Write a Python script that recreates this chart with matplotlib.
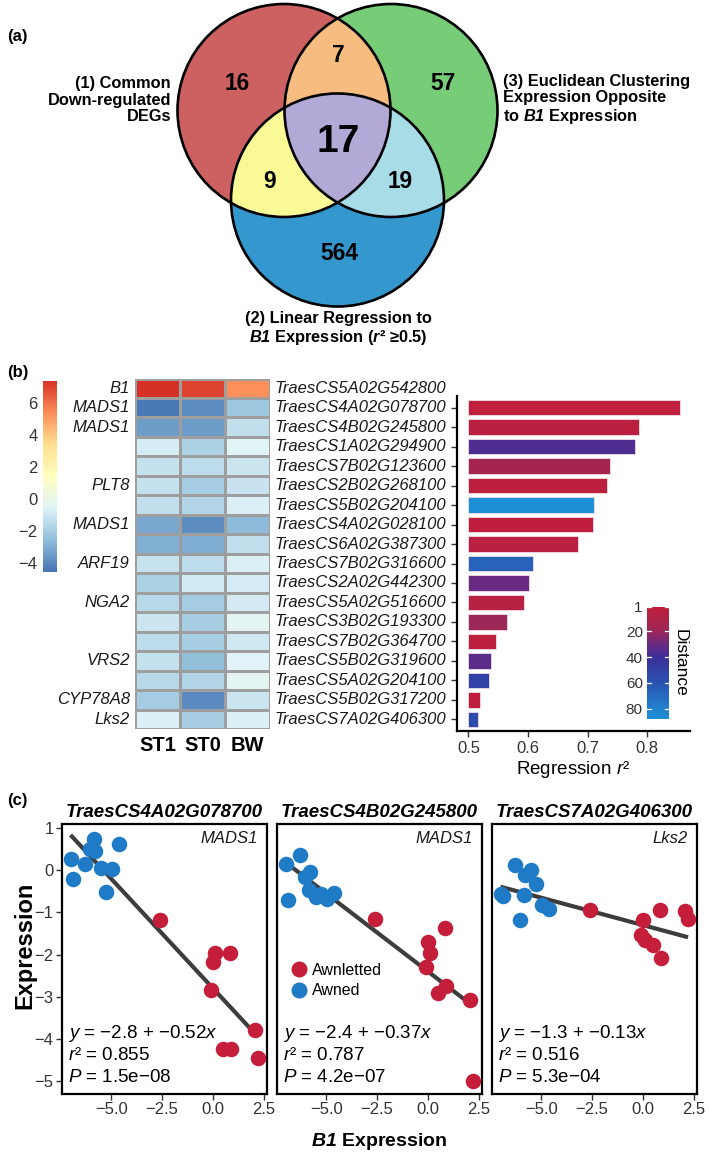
import numpy as np
import matplotlib
matplotlib.use("Agg")
import matplotlib.pyplot as plt
from matplotlib.colors import LinearSegmentedColormap, Normalize, to_rgba
from matplotlib.patches import Ellipse
from matplotlib.lines import Line2D

plt.rcParams['font.family'] = ['Liberation Sans', 'DejaVu Sans']
plt.rcParams['mathtext.fontset'] = 'custom'
plt.rcParams['mathtext.rm'] = 'Liberation Sans'
plt.rcParams['mathtext.it'] = 'Liberation Sans:italic'
plt.rcParams['mathtext.bf'] = 'Liberation Sans:bold'
plt.rcParams['mathtext.bfit'] = 'Liberation Sans:italic:bold'

W, H = 709, 1159

# ---------------- data ----------------
# (a) venn region counts
venn_only1, venn_only3, venn_only2 = 16, 57, 564
venn_13, venn_12, venn_23, venn_123 = 7, 9, 19, 17

# (b) heatmap + regression bars
gene_names = ["B1", "MADS1", "MADS1", "", "", "PLT8", "", "MADS1", "", "ARF19",
              "", "NGA2", "", "", "VRS2", "", "CYP78A8", "Lks2"]
gene_ids = ["TraesCS5A02G542800", "TraesCS4A02G078700", "TraesCS4B02G245800",
            "TraesCS1A02G294900", "TraesCS7B02G123600", "TraesCS2B02G268100",
            "TraesCS5B02G204100", "TraesCS4A02G028100", "TraesCS6A02G387300",
            "TraesCS7B02G316600", "TraesCS2A02G442300", "TraesCS5A02G516600",
            "TraesCS3B02G193300", "TraesCS7B02G364700", "TraesCS5B02G319600",
            "TraesCS5A02G204100", "TraesCS5B02G317200", "TraesCS7A02G406300"]
conditions = ["ST1", "ST0", "BW"]
expr_st1 = [7.4, -4.5, -3.5, -0.85, -1.3, -1.3, -1.4, -3.2, -3.0, -1.25,
            -1.9, -1.6, -1.15, -1.5, -1.3, -1.6, -2.1, -0.7]
expr_st0 = [7.0, -3.9, -3.5, -1.9, -1.5, -2.05, -1.75, -3.95, -3.05, -1.5,
            -0.95, -2.1, -2.0, -2.0, -2.55, -1.75, -4.0, -2.0]
expr_bw = [5.3, -2.3, -1.4, -0.5, -1.15, -1.2, -0.75, -2.7, -1.4, -0.75,
           -0.85, -0.9, -0.4, -1.0, -0.6, -0.4, -1.15, -0.7]
reg_r2 = [0.855, 0.787, 0.779, 0.738, 0.733, 0.710, 0.709, 0.684, 0.608,
          0.601, 0.593, 0.565, 0.547, 0.537, 0.535, 0.520, 0.516]
reg_dist = [2, 4, 36, 15, 3, 88, 1, 5, 66, 30, 6, 20, 3, 33, 50, 2, 55]

# (c) scatter panels
b1_awned = [-7.0, -6.9, -6.3, -6.05, -5.85, -5.8, -5.5, -5.25, -4.95, -4.6]
b1_awnletted = [-2.6, -0.08, 0.0, 0.1, 0.5, 0.83, 0.9, 2.07, 2.22]
p1_awned = [0.28, -0.2, 0.16, 0.51, 0.75, 0.47, 0.06, -0.51, 0.02, 0.62]
p1_awnletted = [-1.18, -2.84, -2.17, -1.97, -4.25, -1.97, -4.25, -3.8, -4.45]
p2_awned = [0.16, -0.71, 0.36, -0.16, -0.47, -0.04, -0.63, -0.55, -0.67, -0.54]
p2_awnletted = [-1.15, -2.29, -1.7, -1.97, -2.92, -1.38, -2.75, -3.08, -4.99]
p3_awned = [-0.55, -0.6, 0.12, -1.18, -0.59, -0.1, 0.0, -0.32, -0.83, -0.91]
p3_awnletted = [-0.95, -1.54, -1.18, -1.66, -1.78, -0.95, -2.09, -0.97, -1.15]
panel_genes = ["TraesCS4A02G078700", "TraesCS4B02G245800", "TraesCS7A02G406300"]
panel_names = ["MADS1", "MADS1", "Lks2"]
fit_intercept = [-2.8, -2.4, -1.3]
fit_slope = [-0.52, -0.37, -0.13]
fit_r2 = ["0.855", "0.787", "0.516"]
fit_p = ["1.5e\u221208", "4.2e\u221207", "5.3e\u221204"]

RED_PT = "#C41E3A"
BLUE_PT = "#1F7BC6"

fig = plt.figure(figsize=(W / 100, H / 100), dpi=100)


def add_ax(l, t, r, b):
    return fig.add_axes([l / W, 1 - b / H, (r - l) / W, (b - t) / H])


# ---------------- (a) venn ----------------
VH = 372
ax_v = add_ax(0, 0, W, VH)
ax_v.set_xlim(0, W)
ax_v.set_ylim(VH, 0)
ax_v.axis('off')

R = 106.5
ell_red = (284, 110.5, R, R)
ell_blue = (337.5, 200, R, R)
ell_green = (391, 110.5, R, R)
gx, gy = np.meshgrid(np.arange(0, W, 0.5) + 0.25, np.arange(0, VH, 0.5) + 0.25)


def inside(e):
    return ((gx - e[0]) / e[2]) ** 2 + ((gy - e[1]) / e[3]) ** 2 <= 1


code = inside(ell_red) * 1 + inside(ell_blue) * 2 + inside(ell_green) * 4
region_cols = {1: "#CD6262", 2: "#3498CE", 4: "#78CC78", 5: "#F8BE80",
               3: "#FAFA96", 6: "#A8DCE6", 7: "#B2AAD6"}
img = np.zeros(code.shape + (4,))
for k, c in region_cols.items():
    img[code == k] = to_rgba(c)
ax_v.imshow(img, extent=(0, W, VH, 0), interpolation='bilinear')
for e in (ell_red, ell_blue, ell_green):
    ax_v.add_patch(Ellipse((e[0], e[1]), 2 * e[2], 2 * e[3], fill=False, lw=1.9, ec='black'))

num_kw = dict(ha='center', va='center', fontweight='bold', fontsize=16.3)
ax_v.text(237, 83, str(venn_only1), **num_kw)
ax_v.text(338, 55, str(venn_13), **num_kw)
ax_v.text(443, 83, str(venn_only3), **num_kw)
ax_v.text(270, 182, str(venn_12), **num_kw)
ax_v.text(400, 182, str(venn_23), **num_kw)
ax_v.text(339, 254, str(venn_only2), **num_kw)
ax_v.text(338, 142, str(venn_123), ha='center', va='center', fontweight='bold', fontsize=28)

lab_kw = dict(va='center', fontweight='bold', fontsize=11.8, linespacing=1.12)
ax_v.text(171, 100, "(1) Common\nDown-regulated\nDEGs", ha='right', **lab_kw)
ax_v.text(503, 100, "(3) Euclidean Clustering\nExpression Opposite\nto $\\mathbfit{B1}$ Expression",
          ha='left', **lab_kw)
ax_v.text(338, 329, "(2) Linear Regression to\n$\\mathbfit{B1}$ Expression ($\\mathbfit{r}$\u00b2 \u22650.5)",
          ha='center', **dict(lab_kw, linespacing=1.15))

fig.text(7 / W, 1 - 37 / H, "(a)", fontsize=12, fontweight='bold', va='center')
fig.text(7 / W, 1 - 373 / H, "(b)", fontsize=12, fontweight='bold', va='center')
fig.text(7 / W, 1 - 800 / H, "(c)", fontsize=12, fontweight='bold', va='center')

# ---------------- (b) heatmap ----------------
heat_cmap = LinearSegmentedColormap.from_list(
    "pheat", ["#4575B4", "#91BFDB", "#E0F3F8", "#FFFFBF", "#FEE090", "#FC8D59", "#D73027"])
hmin, hmax = -4.6, 7.4
vals = np.array([expr_st1, expr_st0, expr_bw]).T
n_rows = len(gene_ids)

ax_h = add_ax(135, 378.5, 270, 729)
ax_h.pcolormesh(vals, cmap=heat_cmap, vmin=hmin, vmax=hmax, edgecolors='#9E9E9E', linewidth=1.0)
ax_h.set_xlim(0, 3)
ax_h.set_ylim(n_rows, 0)
for s in ax_h.spines.values():
    s.set_visible(False)
ax_h.set_yticks([])
ax_h.set_xticks(np.arange(3) + 0.5)
ax_h.set_xticklabels(conditions, fontsize=14.5, fontweight='bold')
ax_h.tick_params(axis='x', length=0, pad=5)
for i in range(n_rows):
    ax_h.text(-0.11, i + 0.5, gene_names[i], ha='right', va='center', style='italic',
              fontsize=12, color='#1A1A1A')
    ax_h.text(3.1, i + 0.5, gene_ids[i], ha='left', va='center', style='italic',
              fontsize=12, color='#1A1A1A')

ax_hc = add_ax(43, 380.5, 57, 572.5)
ax_hc.imshow(np.linspace(hmin, hmax, 256)[:, None], cmap=heat_cmap, aspect='auto',
             origin='lower', extent=(0, 1, hmin, hmax))
ax_hc.set_xticks([])
ax_hc.set_yticks([-4, -2, 0, 2, 4, 6])
ax_hc.tick_params(axis='y', length=0, labelsize=12, labelcolor='#333333', pad=4)
for s in ax_hc.spines.values():
    s.set_visible(False)

# ---------------- (b) regression bars ----------------
dist_cmap = LinearSegmentedColormap.from_list(
    "dist", [(0.0, "#C01E3C"), (0.216, "#9C2858"), (0.33, "#6A2A82"), (0.44, "#3E2E98"),
             (0.67, "#2A52B2"), (0.9, "#2280CC"), (1.0, "#1E90D8")])
dnorm = Normalize(min(reg_dist), max(reg_dist))

ax_b = add_ax(457, 396, 690, 731)
yb = np.arange(len(reg_r2))
ax_b.barh(yb, np.array(reg_r2) - 0.5, left=0.5, height=0.8,
          color=dist_cmap(dnorm(reg_dist)), edgecolor='#F3DCE6', linewidth=0.6)
ax_b.set_ylim(len(reg_r2) - 0.4, -0.6)
ax_b.set_xlim(0.4807, 0.872)
ax_b.set_yticks(yb)
ax_b.set_yticklabels([])
ax_b.set_xticks([0.5, 0.6, 0.7, 0.8])
ax_b.tick_params(axis='both', length=4, width=1, color='#333333', labelsize=12,
                 labelcolor='#333333')
for s in ('top', 'right'):
    ax_b.spines[s].set_visible(False)
for s in ('left', 'bottom'):
    ax_b.spines[s].set_linewidth(1.6)
ax_b.set_xlabel("Regression $r$\u00b2", fontsize=13.5, labelpad=2)

ax_d = add_ax(647, 607, 669, 719)
dmax = max(reg_dist)
ax_d.imshow(np.linspace(1, dmax, 256)[:, None], cmap=dist_cmap, aspect='auto',
            extent=(0, 1, dmax, 1), norm=dnorm)
dticks = [1, 20, 40, 60, 80]
for t in dticks:
    ax_d.plot([0, 0.2], [t, t], color='white', lw=0.9)
    ax_d.plot([0.8, 1], [t, t], color='white', lw=0.9)
ax_d.set_xlim(0, 1)
ax_d.set_xticks([])
ax_d.set_yticks(dticks)
ax_d.tick_params(axis='y', length=0, labelsize=11, labelcolor='#333333', pad=3)
for s in ax_d.spines.values():
    s.set_visible(False)
ax_d.text(1.5, 0.5, "Distance", rotation=270, ha='center', va='center',
          fontsize=12.5, transform=ax_d.transAxes)

# ---------------- (c) scatter panels ----------------
p_awned = [p1_awned, p2_awned, p3_awned]
p_awnletted = [p1_awnletted, p2_awnletted, p3_awnletted]
lefts = [62, 277, 492]
for k in range(3):
    ax = add_ax(lefts[k], 824, lefts[k] + 205, 1094)
    xs = np.array(b1_awned + b1_awnletted)
    xx = np.array([xs.min(), xs.max()])
    ax.plot(xx, fit_intercept[k] + fit_slope[k] * xx, color='#3D3D3D', lw=3, zorder=2,
            solid_capstyle='butt')
    ax.scatter(b1_awnletted, p_awnletted[k], s=125, color=RED_PT, lw=0, zorder=3)
    ax.scatter(b1_awned, p_awned[k], s=125, color=BLUE_PT, lw=0, zorder=3)
    ax.set_xlim(-7.42, 2.66)
    ax.set_ylim(-5.31, 1.1)
    ax.set_xticks([-5.0, -2.5, 0.0, 2.5])
    ax.set_xticklabels(["\u22125.0", "\u22122.5", "0.0", "2.5"])
    ax.set_yticks([1, 0, -1, -2, -3, -4, -5])
    ax.tick_params(axis='both', length=4, width=1, color='#333333', labelsize=12,
                   labelcolor='#333333', pad=2)
    if k > 0:
        ax.tick_params(axis='y', left=False, labelleft=False)
    for s in ax.spines.values():
        s.set_linewidth(1.6)
    ax.set_title(panel_genes[k], fontsize=13.5, fontweight='bold', style='italic', pad=5)
    ax.text(0.955, 0.945, panel_names[k], ha='right', va='center', style='italic',
            fontsize=12, color='#1A1A1A', transform=ax.transAxes)
    sign = "\u2212" if fit_intercept[k] < 0 else ""
    ax.text(0.03, 0.225, "$y$ = %s%.1f + \u2212%.2f$x$" % (sign, abs(fit_intercept[k]), abs(fit_slope[k])),
            fontsize=13.5, va='center', transform=ax.transAxes)
    ax.text(0.03, 0.143, "$r$\u00b2 = " + fit_r2[k], fontsize=13.5, va='center',
            transform=ax.transAxes)
    ax.text(0.03, 0.061, "$P$ = " + fit_p[k], fontsize=13.5, va='center',
            transform=ax.transAxes)
    if k == 1:
        handles = [Line2D([], [], marker='o', ls='', color=RED_PT, markersize=10.5, label='Awnletted'),
                   Line2D([], [], marker='o', ls='', color=BLUE_PT, markersize=10.5, label='Awned')]
        ax.legend(handles=handles, loc='center left', bbox_to_anchor=(0.0, 0.42),
                  frameon=False, fontsize=11.5, handlelength=1.0, handletextpad=0.3,
                  labelspacing=0.35, borderpad=0.4)

fig.text(25 / W, 1 - 945 / H, "Expression", rotation=90, ha='center', va='center',
         fontsize=17, fontweight='bold')
fig.text(379.5 / W, 1 - 1141 / H, "$\\mathbfit{B1}$ Expression", ha='center', va='center',
         fontsize=14, fontweight='bold')

fig.savefig("out.png", dpi=100)
